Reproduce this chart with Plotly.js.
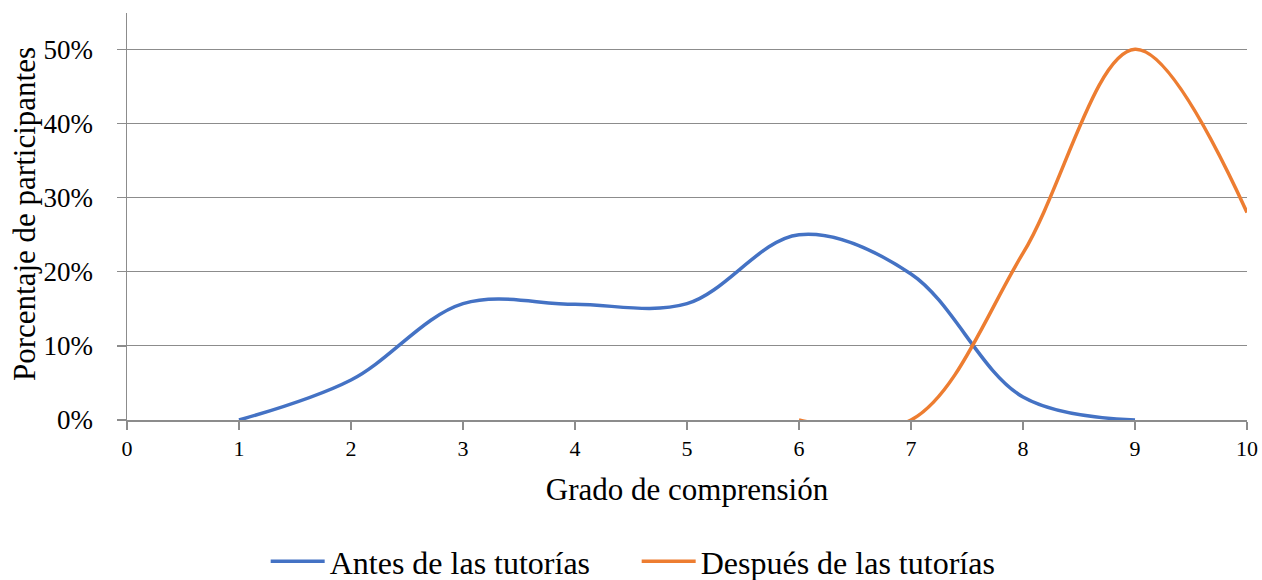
<!DOCTYPE html>
<html>
<head>
<meta charset="utf-8">
<script src="https://cdn.plot.ly/plotly-3.0.1.min.js"></script>
<style>html,body{margin:0;padding:0;background:#fff;}#chart{width:1262px;height:580px;}</style>
</head>
<body>
<div id="chart"></div>
<script>
var grades = [0, 1, 2, 3, 4, 5, 6, 7, 8, 9, 10];
var antesX = [1, 2, 3, 4, 5, 6, 7, 8, 9];
var antesY = [0, 0.054, 0.157, 0.156, 0.157, 0.25, 0.197, 0.031, 0];
var despuesX = [6, 7, 8, 9, 10];
var despuesY = [0, 0, 0.225, 0.50, 0.28];
var seriesNames = ["Antes de las tutorías", "Después de las tutorías"];
var yTitle = "Porcentaje de participantes";
var xTitle = "Grado de comprensión";

var font = "'Liberation Serif', 'Times New Roman', serif";

var traces = [
  {x: antesX, y: antesY, name: seriesNames[0], type: 'scatter', mode: 'lines',
   line: {color: '#4472C4', width: 3.5, shape: 'spline', smoothing: 1}},
  {x: despuesX, y: despuesY, name: seriesNames[1], type: 'scatter', mode: 'lines',
   line: {color: '#ED7D31', width: 3.5, shape: 'spline', smoothing: 1}}
];

var layout = {
  width: 1262, height: 580,
  margin: {l: 127, r: 15, t: 13, b: 160},
  paper_bgcolor: '#fff', plot_bgcolor: '#fff',
  font: {family: font, color: '#000'},
  showlegend: true,
  legend: {orientation: 'h', xref: 'container', yref: 'container', x: 0.5045, xanchor: 'center',
           y: 0.032, yanchor: 'middle', font: {size: 32, family: font, color: '#000'},
           itemwidth: 54, entrywidth: 302, entrywidthmode: 'pixels', traceorder: 'normal'},
  xaxis: {
    range: [0, 10], tickvals: grades, ticktext: grades.map(String),
    showgrid: false, zeroline: false, showline: true, linecolor: '#8c8c8c', linewidth: 1.5,
    ticks: 'outside', ticklen: 8, tickcolor: '#8c8c8c', tickwidth: 1.5,
    tickfont: {size: 22, family: font, color: '#000'},
    title: {text: xTitle, font: {size: 31, family: font, color: '#000'}, standoff: 18},
    fixedrange: true
  },
  yaxis: {
    range: [0, 0.549], tickmode: 'array', tickvals: [0, 0.1, 0.2, 0.3, 0.4, 0.5],
    ticktext: ['0%', '10%', '20%', '30%', '40%', '50%'],
    showgrid: true, gridcolor: '#8c8c8c', gridwidth: 1.2,
    zeroline: false, showline: true, linecolor: '#8c8c8c', linewidth: 1.5,
    ticks: 'outside', ticklen: 9, tickcolor: '#8c8c8c', tickwidth: 1.5,
    ticklabelstandoff: 18,
    tickfont: {size: 27, family: font, color: '#000'},
    fixedrange: true
  },
  annotations: [{
    text: yTitle, textangle: -90, showarrow: false,
    xref: 'paper', yref: 'paper', x: -(127 - 24) / 1120, y: (420 - 214) / 407,
    xanchor: 'center', yanchor: 'middle',
    font: {size: 31, family: font, color: '#000'}
  }]
};

Plotly.newPlot('chart', traces, layout, {displayModeBar: false, staticPlot: true});
</script>
</body>
</html>
